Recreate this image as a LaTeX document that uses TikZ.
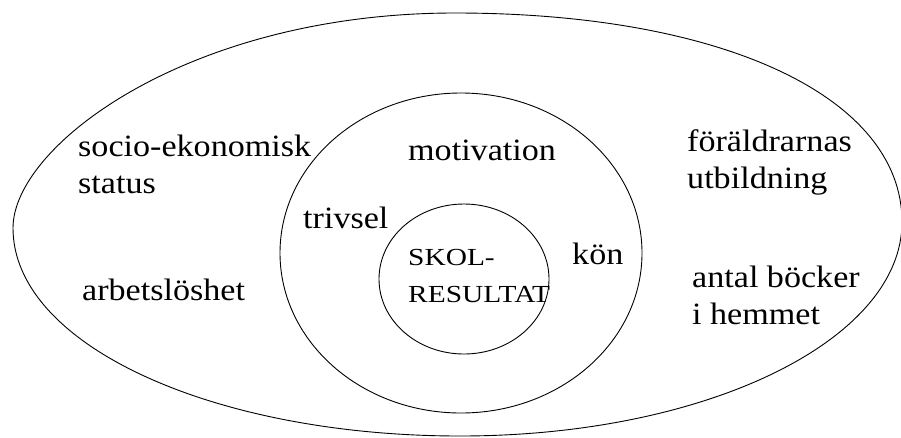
\documentclass[tikz,border=0pt]{standalone}
\usepackage{fontspec}
\setmainfont{Liberation Serif}[FakeStretch=1.1]
\newfontfamily\corefont{Liberation Serif}[FakeStretch=1.2]
\begin{document}
\begin{tikzpicture}[x=1pt,y=-1pt,
  ring/.style={line width=0.9pt,draw=black},
  lbl/.style={inner sep=0pt,anchor=base west,align=left,font=\fontsize{31}{37}\selectfont},
  core/.style={inner sep=0pt,anchor=base west,align=left,font=\corefont\fontsize{24.5}{37}\selectfont}]
\useasboundingbox (0,0) rectangle (901,437);
% outer ring
\coordinate (L) at (13,228);
\coordinate (T) at (455,13);
\coordinate (R) at (902,222);
\coordinate (B) at (460,436);
\draw[ring] (L) .. controls (13,145) and (190,13) .. (T)
  .. controls (723,13) and (902,97) .. (R)
  .. controls (902,340) and (707,436) .. (B)
  .. controls (213,436) and (13,345) .. (L) -- cycle;
% middle ring
\draw[ring] (461,253) ellipse [x radius=181, y radius=160];
% inner ring
\draw[ring] (464,279) ellipse [x radius=85, y radius=75];
% labels
\node[lbl] (ses) at (78,193) {socio-ekonomisk\\status};
\node[lbl] (arb) at (82,300) {arbetslöshet};
\node[lbl] (mot) at (408,160) {motivation};
\node[lbl] (triv) at (303,228) {trivsel};
\node[lbl] (kon) at (572,264) {kön};
\node[core] (skol) at (408,302) {SKOL-\\RESULTAT};
\node[lbl] (utb) at (687,188) {föräldrarnas\\utbildning};
\node[lbl] (bok) at (692,324) {antal böcker\\i hemmet};
\end{tikzpicture}
\end{document}
